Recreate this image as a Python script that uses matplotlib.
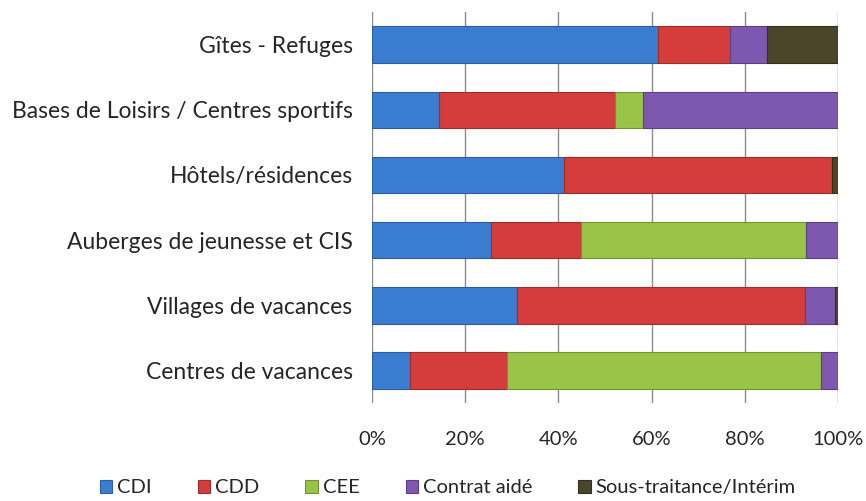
import numpy as np
import matplotlib
matplotlib.use("Agg")
import matplotlib.pyplot as plt
import matplotlib.ticker as mticker

plt.rcParams["font.family"] = ["Lato", "DejaVu Sans"]

# ---------------------------------------------------------------------------
# Data (share of contracts per structure type, %)
# ---------------------------------------------------------------------------
categories = [
    "Gîtes - Refuges",
    "Bases de Loisirs / Centres sportifs",
    "Hôtels/résidences",
    "Auberges de jeunesse et CIS",
    "Villages de vacances",
    "Centres de vacances",
]
series_names = ["CDI", "CDD", "CEE", "Contrat aidé", "Sous-traitance/Intérim"]

cdi   = [61.3, 14.3, 41.1, 25.6, 31.1, 8.2]
cdd   = [15.6, 37.8, 57.5, 19.2, 61.8, 20.7]
cee   = [0.0,  6.1,  0.0, 48.4,  0.0, 67.4]
aide  = [7.9, 41.8,  0.0,  6.8,  6.4,  3.7]
sous  = [15.2, 0.0,  1.4,  0.0,  0.7,  0.0]

colors = ["#3a7dd0", "#d43d3b", "#98c548", "#7e58b0", "#4b4629"]
edges  = ["#2a5e9e", "#a02c2a", "#6f9432", "#5c3f84", "#33301b"]

# ---------------------------------------------------------------------------
# Plot
# ---------------------------------------------------------------------------
fig = plt.figure(figsize=(8.66, 5.01), dpi=100)
ax = fig.add_axes([0.4296, 0.1956, 0.5381, 0.7804])

y = np.arange(len(categories))
left = np.zeros(len(categories))
handles = []
for vals, name, col, ec in zip([cdi, cdd, cee, aide, sous],
                               series_names, colors, edges):
    vals = np.array(vals)
    h = ax.barh(y, vals, left=left, height=0.56, color=col,
                edgecolor=ec, linewidth=0.8, label=name, zorder=3)
    handles.append(h)
    left += vals

ax.set_xlim(0, 100)
ax.set_ylim(len(categories) - 0.5, -0.5)
ax.set_yticks(y)
ax.set_yticklabels(categories, fontsize=16.5, color="#262626")
ax.xaxis.set_major_locator(mticker.MultipleLocator(20))
ax.xaxis.set_major_formatter(mticker.FuncFormatter(lambda v, p: f"{v:.0f}%"))
ax.tick_params(axis="x", labelsize=14.5, length=0, pad=20, colors="#262626")
ax.tick_params(axis="y", length=0, pad=14)
ax.grid(True, axis="x", color="#8c8c8c", linewidth=1.0, zorder=0)
for s in ax.spines.values():
    s.set_visible(False)

fig.legend(handles=handles, labels=series_names, loc="center",
           bbox_to_anchor=(0.517, 0.026), ncol=5, frameon=False,
           fontsize=14.5, handlelength=0.6, handleheight=0.6,
           handletextpad=0.25, columnspacing=2.3, labelcolor="#262626")

fig.savefig("out.png", dpi=100)
